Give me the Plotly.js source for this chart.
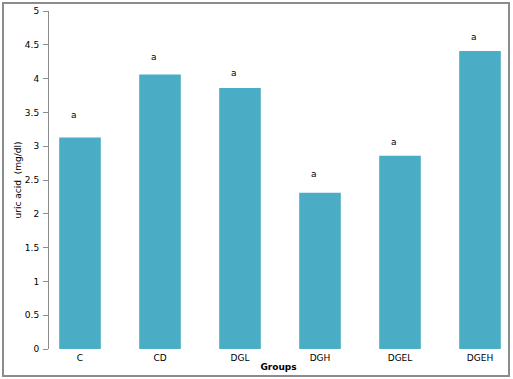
<!DOCTYPE html>
<html>
<head>
<meta charset="utf-8">
<script src="https://cdn.plot.ly/plotly-3.0.1.min.js"></script>
<style>
  html, body { margin: 0; padding: 0; background: #fff; }
  #wrap { position: relative; width: 513px; height: 379px; }
  #chart { position: absolute; left: 0; top: 0; width: 513px; height: 379px; }
  #frame { position: absolute; left: 2px; top: 2px; width: 504px; height: 371px;
           border: 2px solid #8c8c8c; pointer-events: none; }
</style>
</head>
<body>
<div id="wrap">
  <div id="chart"></div>
  <div id="frame"></div>
</div>
<script>
const groups = ["C", "CD", "DGL", "DGH", "DGEL", "DGEH"];
const uricAcid = [3.13, 4.06, 3.86, 2.31, 2.86, 4.41];
const sigLetters = ["a", "a", "a", "a", "a", "a"];
const letterY = [3.46, 4.32, 4.09, 2.59, 3.06, 4.62];
const yTicks = [0, 0.5, 1, 1.5, 2, 2.5, 3, 3.5, 4, 4.5, 5];

const font = { family: "DejaVu Sans, Verdana, sans-serif", size: 9, color: "#000" };

const trace = {
  type: "bar",
  x: groups.map((g, i) => i),
  y: uricAcid,
  width: 0.52,
  marker: { color: "#4BACC6", line: { width: 0 } },
  hoverinfo: "skip"
};

const annotations = groups.map((g, i) => ({
  x: i, y: letterY[i], xref: "x", yref: "y",
  text: sigLetters[i], showarrow: false, xshift: -6,
  font: font
}));

const layout = {
  width: 513, height: 379,
  margin: { l: 49, r: 5, t: 11, b: 30 },
  paper_bgcolor: "#fff", plot_bgcolor: "#fff",
  showlegend: false,
  font: font,
  xaxis: {
    range: [-0.3875, 5.35],
    tickmode: "array",
    tickvals: groups.map((g, i) => i),
    ticktext: groups,
    showline: false, showgrid: false, zeroline: false,
    ticks: "", tickfont: font, ticklabelstandoff: 2,
    title: { text: "<b>Groups</b>", font: font, standoff: 1 },
    fixedrange: true
  },
  yaxis: {
    range: [0, 5],
    tickmode: "array",
    tickvals: yTicks,
    ticktext: yTicks.map(String),
    showline: true, linecolor: "#8c8c8c", linewidth: 1,
    ticks: "outside", ticklen: 5, tickcolor: "#8c8c8c", tickwidth: 1,
    showgrid: false, zeroline: false,
    tickfont: font, ticklabelstandoff: 2,
    title: { text: "uric acid  (mg/dl)", font: font, standoff: 1 },
    fixedrange: true
  },
  annotations: annotations
};

Plotly.newPlot("chart", [trace], layout, { displayModeBar: false, staticPlot: true });
</script>
</body>
</html>
